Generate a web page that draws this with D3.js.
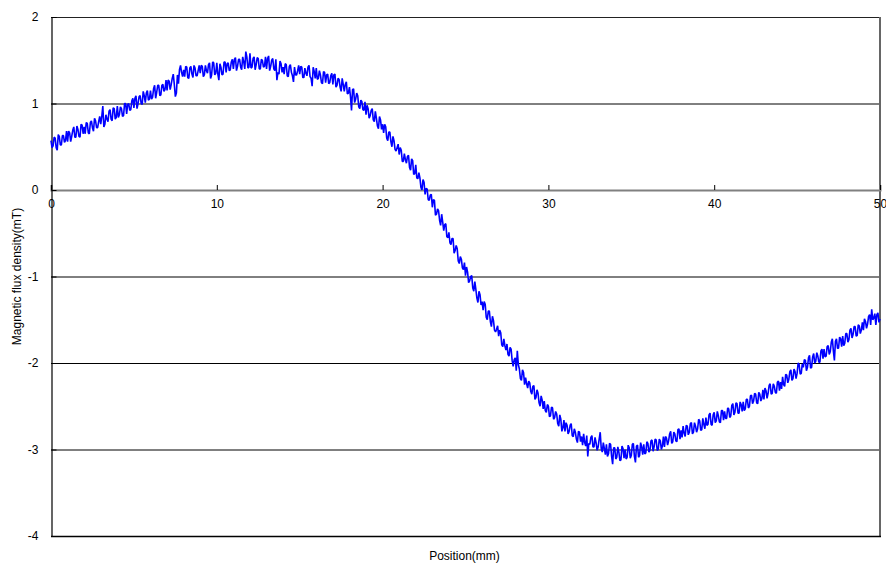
<!DOCTYPE html>
<html>
<head>
<meta charset="utf-8">
<script src="https://cdn.jsdelivr.net/npm/d3@7"></script>
<style>
  html, body { margin: 0; padding: 0; background: #fff; }
  svg { display: block; font-family: "Liberation Sans", Arial, sans-serif; }
</style>
</head>
<body>
<svg id="chart" width="886" height="565"></svg>
<script>
// Hall-probe scan: magnetic flux density sampled every 0.0625 mm from 0 to 50 mm
const positionStart = 0;       // mm
const positionStep = 0.0625;   // mm between samples
const fluxDensity = [
  0.57,0.49,0.51,0.61,0.60,0.49,0.46,0.64,0.62,0.52,0.52,0.63,0.63,0.55,0.57,0.68,
  0.56,0.68,0.66,0.56,0.62,0.69,0.73,0.61,0.61,0.74,0.70,0.62,0.61,0.76,0.75,0.65,
  0.73,0.65,0.78,0.77,0.66,0.65,0.78,0.80,0.72,0.68,0.83,0.80,0.72,0.72,0.79,0.85,
  0.76,0.85,0.97,0.73,0.76,0.87,0.82,0.79,0.91,0.93,0.82,0.80,0.95,0.94,0.82,0.84,
  0.97,0.84,0.87,0.96,0.94,0.85,0.86,1.00,1.00,0.88,0.99,1.00,0.92,0.93,1.03,1.06,
  0.95,1.06,1.09,0.94,1.00,1.08,1.09,1.00,0.99,1.14,1.09,1.01,1.12,1.15,1.04,1.05,
  1.15,1.05,1.07,1.17,1.21,1.06,1.13,1.21,1.21,1.09,1.10,1.21,1.22,1.14,1.16,1.27,
  1.15,1.27,1.26,1.16,1.22,1.29,1.34,1.22,1.08,1.12,1.33,1.23,1.39,1.44,1.36,1.31,
  1.39,1.31,1.43,1.42,1.30,1.29,1.41,1.43,1.34,1.30,1.44,1.41,1.32,1.32,1.38,1.44,
  1.35,1.44,1.43,1.31,1.33,1.44,1.38,1.35,1.45,1.47,1.29,1.33,1.48,1.47,1.33,1.35,
  1.47,1.34,1.27,1.46,1.42,1.33,1.34,1.48,1.48,1.36,1.46,1.47,1.38,1.39,1.48,1.51,
  1.40,1.51,1.53,1.38,1.43,1.51,1.51,1.42,1.39,1.54,1.48,1.40,1.60,1.54,1.41,1.42,
  1.58,1.41,1.42,1.52,1.54,1.39,1.45,1.53,1.52,1.40,1.40,1.51,1.50,1.42,1.43,1.54,
  1.40,1.52,1.55,1.38,1.43,1.50,1.52,1.40,1.38,1.51,1.27,1.36,1.34,1.49,1.46,1.36,
  1.42,1.34,1.46,1.45,1.32,1.31,1.43,1.45,1.36,1.32,1.25,1.42,1.33,1.33,1.38,1.44,
  1.34,1.43,1.42,1.30,1.30,1.41,1.35,1.32,1.42,1.44,1.31,1.29,1.20,1.42,1.37,1.29,
  1.41,1.28,1.29,1.38,1.33,1.24,1.23,1.37,1.36,1.24,1.33,1.34,1.23,1.24,1.32,1.35,
  1.22,1.33,1.34,1.19,1.21,1.29,1.28,1.19,1.14,1.29,1.22,1.14,1.22,1.25,1.11,1.12,
  1.19,1.08,0.92,1.16,1.17,1.01,1.05,1.12,1.09,0.96,0.94,1.04,1.02,0.93,0.92,1.02,
  0.87,0.98,0.94,0.83,0.86,0.92,0.94,0.81,0.79,0.91,0.83,0.74,0.71,0.85,0.81,0.70,
  0.76,0.66,0.76,0.73,0.60,0.57,0.67,0.67,0.56,0.50,0.62,0.57,0.47,0.45,0.49,0.53,
  0.41,0.49,0.46,0.33,0.33,0.42,0.35,0.31,0.39,0.40,0.26,0.23,0.36,0.34,0.18,0.19,
  0.29,0.14,0.13,0.20,0.14,0.03,0.00,0.12,0.09,-0.05,0.02,0.01,-0.11,-0.12,-0.06,-0.05,
  -0.20,-0.11,-0.12,-0.29,-0.28,-0.22,-0.24,-0.35,-0.41,-0.28,-0.37,-0.47,-0.40,-0.39,-0.54,-0.55,
  -0.49,-0.61,-0.63,-0.56,-0.56,-0.73,-0.70,-0.64,-0.68,-0.82,-0.85,-0.77,-0.80,-0.90,-0.92,-0.84,
  -0.99,-0.89,-0.95,-1.07,-1.05,-1.00,-0.99,-1.13,-1.17,-1.06,-1.15,-1.25,-1.30,-1.17,-1.21,-1.33,
  -1.29,-1.39,-1.29,-1.32,-1.47,-1.50,-1.40,-1.40,-1.52,-1.58,-1.46,-1.51,-1.62,-1.64,-1.61,-1.57,
  -1.69,-1.62,-1.65,-1.79,-1.81,-1.72,-1.80,-1.85,-1.78,-1.90,-1.92,-1.82,-1.84,-1.97,-2.04,-1.96,
  -1.94,-2.09,-1.86,-2.02,-2.07,-2.18,-2.20,-2.08,-2.11,-2.25,-2.17,-2.24,-2.29,-2.21,-2.23,-2.33,
  -2.36,-2.27,-2.26,-2.42,-2.40,-2.31,-2.35,-2.46,-2.50,-2.38,-2.43,-2.53,-2.44,-2.55,-2.57,-2.48,
  -2.50,-2.62,-2.61,-2.51,-2.52,-2.65,-2.63,-2.56,-2.59,-2.70,-2.73,-2.60,-2.65,-2.79,-2.75,-2.66,
  -2.79,-2.69,-2.72,-2.82,-2.79,-2.72,-2.70,-2.84,-2.85,-2.76,-2.80,-2.88,-2.92,-2.79,-2.80,-2.91,
  -2.85,-2.95,-2.82,-2.92,-2.96,-2.84,-3.08,-2.93,-2.94,-2.86,-2.84,-2.97,-2.97,-2.86,-2.92,-3.01,
  -2.97,-2.88,-2.80,-2.99,-3.03,-2.92,-2.99,-3.06,-2.94,-3.08,-3.05,-2.93,-2.94,-3.08,-3.17,-2.98,
  -2.98,-3.11,-3.09,-2.97,-3.03,-3.13,-3.12,-2.96,-2.99,-3.10,-3.00,-3.11,-3.09,-2.95,-2.98,-3.10,
  -3.07,-2.94,-2.93,-3.08,-3.15,-2.96,-2.95,-3.09,-3.07,-2.92,-2.97,-3.06,-2.94,-3.05,-3.04,-2.91,
  -2.93,-3.03,-3.01,-2.90,-2.89,-3.02,-2.97,-2.88,-2.89,-3.01,-3.00,-2.88,-2.90,-3.00,-2.96,-2.85,
  -2.97,-2.85,-2.87,-2.95,-2.90,-2.82,-2.79,-2.93,-2.91,-2.80,-2.82,-2.90,-2.91,-2.77,-2.76,-2.88,
  -2.78,-2.86,-2.73,-2.81,-2.85,-2.72,-2.73,-2.83,-2.80,-2.70,-2.69,-2.82,-2.80,-2.69,-2.73,-2.80,
  -2.76,-2.65,-2.67,-2.78,-2.77,-2.64,-2.71,-2.76,-2.63,-2.72,-2.71,-2.60,-2.58,-2.71,-2.72,-2.60,
  -2.57,-2.69,-2.67,-2.56,-2.61,-2.68,-2.69,-2.55,-2.55,-2.66,-2.56,-2.64,-2.64,-2.52,-2.53,-2.63,
  -2.61,-2.49,-2.47,-2.60,-2.57,-2.46,-2.47,-2.58,-2.58,-2.45,-2.48,-2.56,-2.45,-2.55,-2.53,-2.42,
  -2.42,-2.52,-2.50,-2.38,-2.37,-2.47,-2.44,-2.35,-2.36,-2.46,-2.47,-2.34,-2.36,-2.44,-2.41,-2.31,
  -2.42,-2.29,-2.32,-2.41,-2.35,-2.26,-2.24,-2.36,-2.35,-2.24,-2.27,-2.34,-2.35,-2.22,-2.21,-2.32,
  -2.22,-2.30,-2.16,-2.25,-2.27,-2.13,-2.14,-2.23,-2.19,-2.10,-2.08,-2.20,-2.18,-2.07,-2.10,-2.18,
  -2.12,-2.00,-2.02,-2.13,-2.12,-2.01,-2.05,-1.96,-1.97,-2.09,-2.05,-1.94,-1.91,-2.06,-2.05,-1.93,
  -1.89,-2.00,-1.98,-1.88,-1.92,-1.99,-1.99,-1.86,-1.84,-1.95,-1.84,-1.93,-1.92,-1.81,-1.80,-1.90,
  -1.87,-1.76,-1.72,-1.86,-1.97,-1.75,-1.72,-1.83,-1.83,-1.70,-1.72,-1.81,-1.69,-1.80,-1.77,-1.66,
  -1.66,-1.76,-1.73,-1.62,-1.60,-1.71,-1.67,-1.58,-1.58,-1.69,-1.68,-1.56,-1.57,-1.66,-1.62,-1.53,
  -1.62,-1.49,-1.52,-1.60,-1.55,-1.46,-1.44,-1.56,-1.38,-1.50,-1.48,-1.43,-1.56,-1.44,-1.42,-1.53,
  -1.49
];

const xTicks = [0, 10, 20, 30, 40, 50];
const yTicks = [2, 1, 0, -1, -2, -3, -4];
const xTitle = "Position(mm)";
const yTitle = "Magnetic flux density(mT)";

const plot = { left: 51, top: 17, right: 880, bottom: 536 };

const svg = d3.select("#chart");

const x = d3.scaleLinear().domain([0, 50]).range([plot.left, plot.right]);
const y = d3.scaleLinear().domain([-4, 2]).range([plot.bottom, plot.top]);

// plain hyphen-minus tick labels
const fmt = d => String(d);

// horizontal gridlines at every major y value (except the zero axis and frame)
svg.append("g")
  .selectAll("line")
  .data(yTicks.filter(v => v !== 0 && v !== 2 && v !== -4))
  .join("line")
  .attr("x1", plot.left).attr("x2", plot.right)
  .attr("y1", d => y(d) + 0.5).attr("y2", d => y(d) + 0.5)
  .attr("stroke", "#000").attr("stroke-width", 1);

// plot frame
svg.append("line")
  .attr("x1", plot.left).attr("x2", plot.right)
  .attr("y1", plot.top + 0.5).attr("y2", plot.top + 0.5)
  .attr("stroke", "#222").attr("stroke-width", 1);
svg.append("line")
  .attr("x1", plot.right).attr("x2", plot.right)
  .attr("y1", plot.top).attr("y2", plot.bottom + 1)
  .attr("stroke", "#666").attr("stroke-width", 2);
svg.append("line")
  .attr("x1", plot.left).attr("x2", plot.right + 1)
  .attr("y1", plot.bottom + 0.5).attr("y2", plot.bottom + 0.5)
  .attr("stroke", "#000").attr("stroke-width", 1.5);

// x axis along zero, ticks pointing up
const xAxis = d3.axisTop(x).tickValues(xTicks).tickSize(5).tickFormat(fmt);
const gx = svg.append("g").attr("transform", `translate(0,${y(0)})`).call(xAxis);
gx.select(".domain").attr("stroke", "#808080").attr("stroke-width", 2);
gx.selectAll(".tick line").attr("stroke", "#000");
gx.selectAll(".tick text")
  .attr("y", 14).attr("dy", "0.35em")
  .attr("font-size", 12).attr("fill", "#000")
  .attr("font-family", "Liberation Sans, Arial, sans-serif");

// y axis on the left, ticks pointing into the plot
const yAxis = d3.axisLeft(y).tickValues(yTicks).tickSize(-5).tickPadding(13).tickFormat(fmt);
const gy = svg.append("g").attr("transform", `translate(${plot.left + 0.5},0)`).call(yAxis);
gy.select(".domain").attr("stroke", "#000").attr("stroke-width", 1.2);
gy.selectAll(".tick line").attr("stroke", "#000");
gy.selectAll(".tick text")
  .attr("font-size", 12).attr("fill", "#000")
  .attr("font-family", "Liberation Sans, Arial, sans-serif");

// measured curve
const line = d3.line()
  .x((d, i) => x(positionStart + i * positionStep))
  .y(d => y(d));

svg.append("path")
  .datum(fluxDensity)
  .attr("d", line)
  .attr("fill", "none")
  .attr("stroke", "#0000ff")
  .attr("stroke-width", 1.6)
  .attr("stroke-linejoin", "bevel");

// axis titles
svg.append("text")
  .attr("x", (plot.left + plot.right) / 2 - 1)
  .attr("y", 560)
  .attr("text-anchor", "middle")
  .attr("font-size", 12)
  .text(xTitle);

svg.append("text")
  .attr("transform", `translate(21,${(plot.top + plot.bottom) / 2}) rotate(-90)`)
  .attr("text-anchor", "middle")
  .attr("font-size", 12)
  .text(yTitle);
</script>
</body>
</html>
